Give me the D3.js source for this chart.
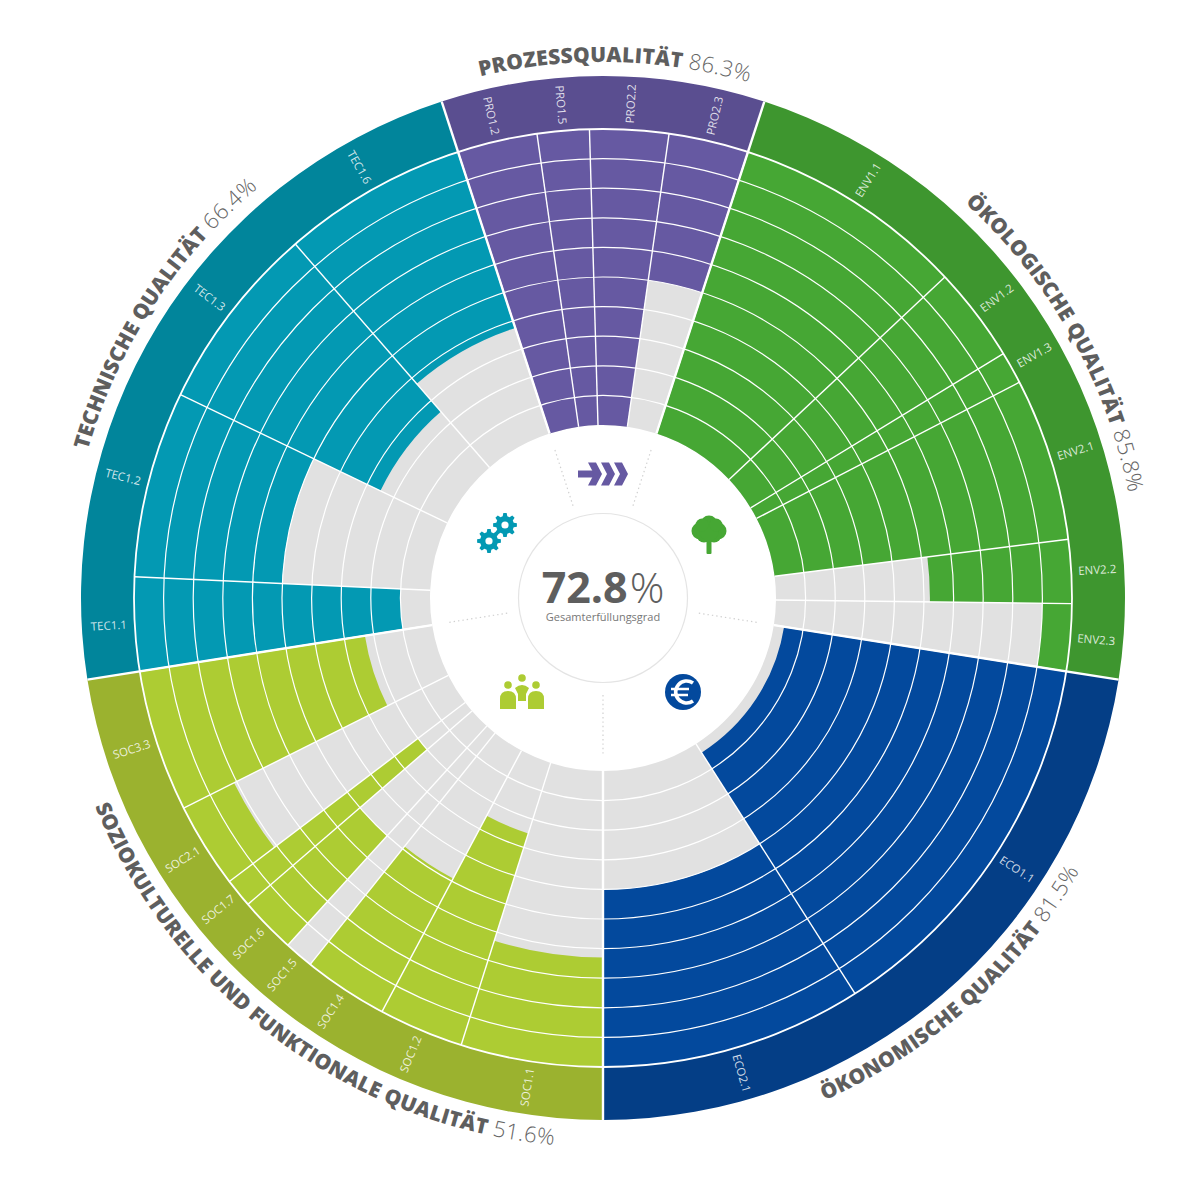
<!DOCTYPE html>
<html>
<head>
<meta charset="utf-8">
<title>Gesamterfüllungsgrad</title>
<script src="https://d3js.org/d3.v7.min.js"></script>
<style>
    body { margin: 0; background: #fff; }
    text { font-family: "Open Sans", sans-serif; }
</style>
</head>
<body>
<div id="chart"></div>
<script>
// Data
const groupNames = ["PROZESSQUALITÄT", "ÖKOLOGISCHE QUALITÄT", "ÖKONOMISCHE QUALITÄT", "SOZIOKULTURELLE UND FUNKTIONALE QUALITÄT", "TECHNISCHE QUALITÄT"];
const groupScores = ["86.3", "85.8", "81.5", "51.6", "66.4"];
const totalScore = "72.8";
const totalLabel = "Gesamterfüllungsgrad";

const criterionLabels = [
    "PRO1.2", "PRO1.5", "PRO2.2", "PRO2.3",
    "ENV1.1", "ENV1.2", "ENV1.3", "ENV2.1", "ENV2.2", "ENV2.3",
    "ECO1.1", "ECO2.1",
    "SOC1.1", "SOC1.2", "SOC1.4", "SOC1.5", "SOC1.6", "SOC1.7", "SOC2.1", "SOC3.3",
    "TEC1.1", "TEC1.2", "TEC1.3", "TEC1.6"
];
const criterionGroups = [0, 0, 0, 0, 1, 1, 1, 1, 1, 1, 2, 2, 3, 3, 3, 3, 3, 3, 3, 3, 4, 4, 4, 4];
// share of the whole result, in percent (sets the width of each slice)
const criterionWeights = [
    2.75, 1.79, 2.71, 2.75,
    8.0, 3.28, 1.11, 5.61, 2.19, 2.31,
    13.47, 9.03,
    4.89, 2.92, 2.92, 1.0, 1.94, 1.0, 2.94, 4.89,
    3.22, 6.42, 6.47, 6.39
];
const criterionScores = [
    100, 100, 100, 50,
    100, 100, 100, 100, 48, 10,
    96.5, 60,
    37, 75, 51, 0, 50, 80, 19, 77,
    90, 50, 75, 62.5
];
const ringTicks = d3.range(0, 101, 10);

// Colours per group
const bandColors = ["#5a4e90", "#3e962f", "#043e86", "#9bb22f", "#01859b"];
const fillColors = ["#6659a2", "#46a734", "#03499d", "#adcc33", "#0399b3"];
const trackColor = "#e1e1e1";
const textColor = "#5e5e5e";

// Layout
const width = 1200, height = 1179;
const cx = 603, cy = 598;
const holeRadius = 173, plotRadius = 469, bandRadius = 522;
const deg = Math.PI / 180;
const startAngle = -18 * deg;
// centre of each curved title, and whether it runs clockwise
const titleCentres = [1.3, 60.6, 138, 216.4, 303];
const titleClockwise = [true, true, false, false, true];

const svg = d3.select("#chart")
    .append("svg")
    .attr("width", width)
    .attr("height", height)
    .style("display", "block")
    .append("g")
    .attr("transform", `translate(${cx},${cy})`);

const r = d3.scaleLinear().domain([0, 100]).range([plotRadius, holeRadius]);

const pie = d3.pie()
    .sort(null)
    .value(d => d)
    .startAngle(startAngle)
    .endAngle(startAngle + 2 * Math.PI);
const slices = pie(criterionWeights);

// Group spans come from the slices that belong to them
const groupSpans = groupNames.map((name, i) => {
    const own = slices.filter((s, j) => criterionGroups[j] === i);
    return { start: d3.min(own, s => s.startAngle), end: d3.max(own, s => s.endAngle) };
});

const arc = d3.arc();
const radial = (a, r0, r1) => ({
    x1: r0 * Math.sin(a), y1: -r0 * Math.cos(a),
    x2: r1 * Math.sin(a), y2: -r1 * Math.cos(a)
});

// Outer band
svg.append("g").selectAll("path")
    .data(groupSpans)
    .join("path")
    .attr("fill", (d, i) => bandColors[i])
    .attr("d", d => arc({ innerRadius: plotRadius, outerRadius: bandRadius, startAngle: d.start, endAngle: d.end }));

// Grey tracks
svg.append("g").selectAll("path")
    .data(slices)
    .join("path")
    .attr("fill", trackColor)
    .attr("d", d => arc({ innerRadius: holeRadius, outerRadius: plotRadius, startAngle: d.startAngle, endAngle: d.endAngle }));

// Filled part, grows from the rim towards the centre
svg.append("g").selectAll("path")
    .data(slices)
    .join("path")
    .attr("fill", (d, i) => fillColors[criterionGroups[i]])
    .attr("d", (d, i) => arc({ innerRadius: r(criterionScores[i]), outerRadius: plotRadius, startAngle: d.startAngle, endAngle: d.endAngle }));

// Rings
svg.append("g").selectAll("circle")
    .data(ringTicks.filter(t => t < 100))
    .join("circle")
    .attr("r", d => r(d))
    .attr("fill", "none")
    .attr("stroke", "#fff")
    .attr("stroke-width", d => d === 0 ? 1.8 : 1.2);

// Criterion dividers
svg.append("g").selectAll("line")
    .data(slices)
    .join("line")
    .each(function (d) {
        const p = radial(d.startAngle, holeRadius, plotRadius);
        d3.select(this).attr("x1", p.x1).attr("y1", p.y1).attr("x2", p.x2).attr("y2", p.y2);
    })
    .attr("stroke", "#fff")
    .attr("stroke-width", 1.4);

// Group dividers
svg.append("g").selectAll("line")
    .data(groupSpans)
    .join("line")
    .each(function (d) {
        const p = radial(d.start, holeRadius, bandRadius);
        d3.select(this).attr("x1", p.x1).attr("y1", p.y1).attr("x2", p.x2).attr("y2", p.y2);
    })
    .attr("stroke", "#fff")
    .attr("stroke-width", 2.4);

// Criterion labels
svg.append("g").selectAll("text")
    .data(slices)
    .join("text")
    .attr("transform", d => {
        const a = ((d.startAngle + d.endAngle) / 2) / deg;
        const norm = (a + 360) % 360;
        return `rotate(${a - 90}) translate(495,0) rotate(${norm < 180 ? 0 : 180})`;
    })
    .attr("text-anchor", "middle")
    .attr("dy", "0.35em")
    .attr("font-size", 11.5)
    .attr("fill", "#fff")
    .attr("fill-opacity", 0.82)
    .text((d, i) => criterionLabels[i]);

// Curved group titles
const defs = svg.append("defs");
groupNames.forEach((name, i) => {
    const clockwise = titleClockwise[i];
    const radius = clockwise ? 536 : 549;
    const c = (titleCentres[i] - 90) * deg;
    const p = d3.path();
    if (clockwise) p.arc(0, 0, radius, c - 1.5, c + 1.5, false);
    else p.arc(0, 0, radius, c + 1.5, c - 1.5, true);
    defs.append("path").attr("id", `title-${i}`).attr("d", p.toString());

    const tp = svg.append("text")
        .attr("font-size", 21)
        .append("textPath")
        .attr("href", `#title-${i}`)
        .attr("startOffset", "50%")
        .attr("text-anchor", "middle");
    tp.append("tspan")
        .attr("font-weight", 800)
        .attr("fill", textColor)
        .attr("letter-spacing", 0.2)
        .text(name + " ");
    tp.append("tspan")
        .attr("font-weight", 300)
        .attr("font-size", 22)
        .attr("fill", "#666")
        .attr("letter-spacing", 0.5)
        .text(groupScores[i] + "%");
});

// Centre
svg.append("circle")
    .attr("r", 84.5)
    .attr("fill", "none")
    .attr("stroke", "#e4e4e4")
    .attr("stroke-width", 1.2);

svg.append("g").selectAll("line")
    .data(groupSpans)
    .join("line")
    .each(function (d) {
        const p = radial(d.start, 97, 156);
        d3.select(this).attr("x1", p.x1).attr("y1", p.y1).attr("x2", p.x2).attr("y2", p.y2);
    })
    .attr("stroke", "#d0d0d0")
    .attr("stroke-width", 1.2)
    .attr("stroke-dasharray", "1.4 3");

const total = svg.append("text")
    .attr("text-anchor", "middle")
    .attr("y", 5)
    .attr("font-size", 43)
    .attr("fill", textColor);
total.append("tspan").attr("font-weight", 700).text(totalScore);
total.append("tspan").attr("font-weight", 300).attr("dx", 2).text("%");

svg.append("text")
    .attr("text-anchor", "middle")
    .attr("y", 23)
    .attr("font-size", 11)
    .attr("fill", "#777")
    .text(totalLabel);

// Icons
const icons = svg.append("g");

// arrows
const arrows = icons.append("g").attr("transform", "translate(0,-124)").attr("fill", fillColors[0]);
arrows.append("path").attr("d", "M-25,-3.5H-6V3.5H-25Z");
[-15, -2, 11].forEach(x => {
    arrows.append("path").attr("d", `M${x},-11.5H${x + 8}L${x + 14},0L${x + 8},11.5H${x}L${x + 6},0Z`);
});

// gears
const gear = (x, y, outer, inner, hole) => {
    const pts = d3.range(0, 8).flatMap(k => {
        const a = k * Math.PI / 4;
        const w = 0.2;
        return [[a - w * 1.3, inner], [a - w * 0.7, outer], [a + w * 0.7, outer], [a + w * 1.3, inner]];
    });
    const outline = d3.lineRadial().angle(d => d[0]).radius(d => d[1]).curve(d3.curveLinearClosed)(pts);
    icons.append("path")
        .attr("transform", `translate(${x},${y})`)
        .attr("fill", fillColors[4])
        .attr("fill-rule", "evenodd")
        .attr("d", `${outline}M${hole},0A${hole},${hole} 0 1,0 ${-hole},0A${hole},${hole} 0 1,0 ${hole},0Z`);
};
gear(-114, -57, 12, 9, 3.6);
gear(-98, -73, 12, 9, 3.6);

// tree
const tree = icons.append("g").attr("transform", "translate(106,-66)").attr("fill", fillColors[1]);
[[0, -8, 8.5], [-9, -1, 8.5], [9, -1, 8.5], [-5, 3, 7.5], [5, 3, 7.5], [0, -1, 10], [-7, -7, 6.5], [7, -7, 6.5]].forEach(c => {
    tree.append("circle").attr("cx", c[0]).attr("cy", c[1]).attr("r", c[2]);
});
tree.append("rect").attr("x", -2.5).attr("y", 5).attr("width", 5).attr("height", 17).attr("rx", 1);

// euro
const euro = icons.append("g").attr("transform", "translate(80,94)");
euro.append("circle").attr("r", 18).attr("fill", fillColors[2]);
euro.append("path")
    .attr("d", "M10,-9A11,11 0 1,0 10,9")
    .attr("fill", "none")
    .attr("stroke", "#fff")
    .attr("stroke-width", 3.6);
euro.append("path")
    .attr("d", "M-12,-3H6M-12,3H5")
    .attr("fill", "none")
    .attr("stroke", "#fff")
    .attr("stroke-width", 2.6);

// people
const people = icons.append("g").attr("transform", "translate(-81,99)").attr("fill", fillColors[3]);
const person = (x, y) => {
    people.append("circle").attr("cx", x).attr("cy", y - 17).attr("r", 3.8);
    people.append("path").attr("d", `M${x - 8},${y + 7}V${y - 3}Q${x - 8},${y - 11} ${x},${y - 11}Q${x + 8},${y - 11} ${x + 8},${y - 3}V${y + 7}Z`);
};
person(-14, 5);
person(14, 5);
people.append("circle").attr("cx", 0).attr("cy", -19).attr("r", 3.8);
people.append("path").attr("d", "M-7,-9Q0,-15 7,-9L4,-3V4H-4V-3Z");
</script>
</body>
</html>
